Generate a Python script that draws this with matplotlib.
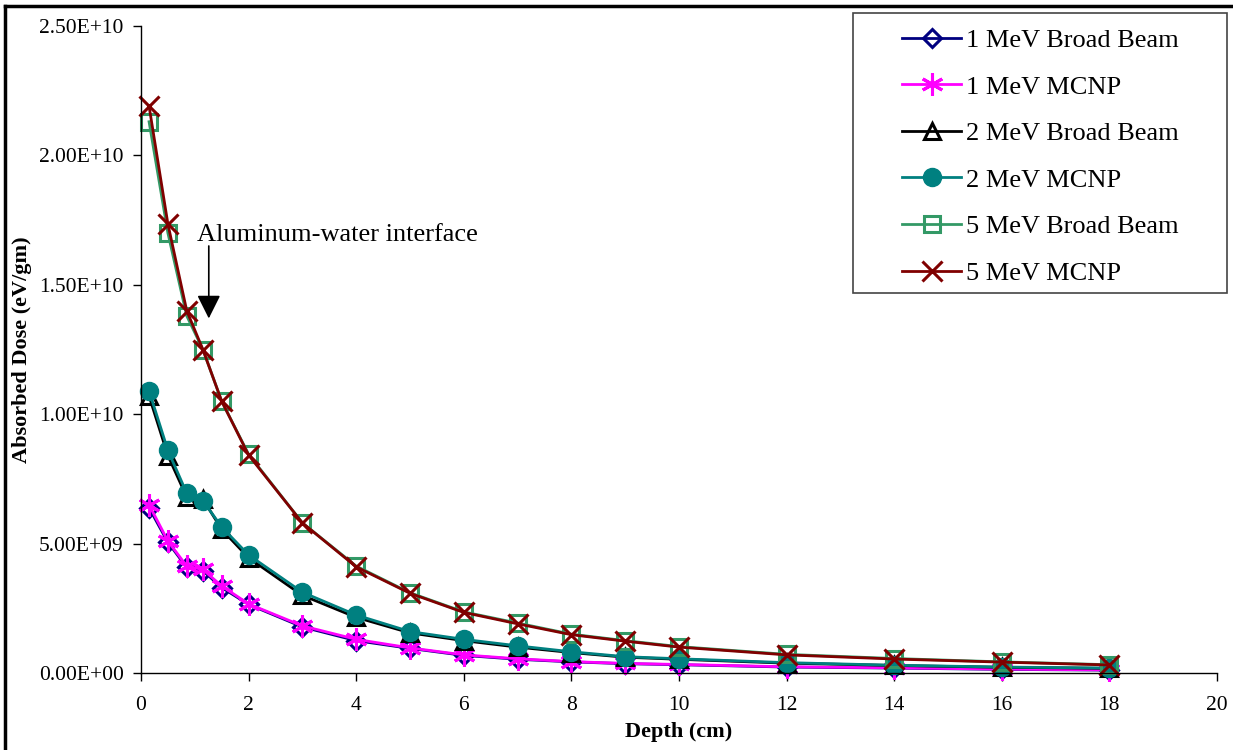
import matplotlib
matplotlib.use("Agg")
import matplotlib.pyplot as plt
from matplotlib.lines import Line2D
from matplotlib.patches import Rectangle

plt.rcParams['font.family'] = ['Liberation Serif', 'DejaVu Serif']

depth = [0.15, 0.5, 0.85, 1.15, 1.5, 2, 3, 4, 5, 6, 7, 8, 9, 10, 12, 14, 16, 18]

mev1_broad = [6.38e9, 5.05e9, 4.08e9, 3.95e9, 3.30e9, 2.65e9, 1.78e9, 1.25e9, 0.95e9,
              0.68e9, 0.53e9, 0.43e9, 0.36e9, 0.32e9, 0.23e9, 0.19e9, 0.14e9, 0.11e9]
mev1_mcnp = [6.50e9, 5.10e9, 4.13e9, 4.00e9, 3.36e9, 2.67e9, 1.82e9, 1.30e9, 0.97e9,
             0.70e9, 0.55e9, 0.44e9, 0.37e9, 0.33e9, 0.24e9, 0.20e9, 0.15e9, 0.12e9]
mev2_broad = [1.07e10, 8.40e9, 6.80e9, 6.72e9, 5.55e9, 4.45e9, 3.00e9, 2.15e9, 1.55e9,
              1.25e9, 1.00e9, 0.79e9, 0.61e9, 0.53e9, 0.38e9, 0.29e9, 0.22e9, 0.18e9]
mev2_mcnp = [1.09e10, 8.60e9, 6.95e9, 6.66e9, 5.64e9, 4.56e9, 3.12e9, 2.24e9, 1.60e9,
             1.30e9, 1.05e9, 0.82e9, 0.63e9, 0.55e9, 0.40e9, 0.30e9, 0.23e9, 0.19e9]
mev5_broad = [2.13e10, 1.70e10, 1.38e10, 1.25e10, 1.05e10, 8.45e9, 5.80e9, 4.13e9, 3.10e9,
              2.36e9, 1.93e9, 1.50e9, 1.25e9, 1.02e9, 0.72e9, 0.56e9, 0.43e9, 0.32e9]
mev5_mcnp = [2.19e10, 1.735e10, 1.40e10, 1.25e10, 1.05e10, 8.42e9, 5.80e9, 4.10e9, 3.08e9,
             2.34e9, 1.90e9, 1.48e9, 1.23e9, 1.00e9, 0.70e9, 0.54e9, 0.42e9, 0.31e9]

labels = ["1 MeV Broad Beam", "1 MeV MCNP", "2 MeV Broad Beam",
          "2 MeV MCNP", "5 MeV Broad Beam", "5 MeV MCNP"]

x_ticks = [0, 2, 4, 6, 8, 10, 12, 14, 16, 18, 20]
y_ticks = [0, 5e9, 1e10, 1.5e10, 2e10, 2.5e10]
y_tick_labels = ["0.00E+00", "5.00E+09", "1.00E+10", "1.50E+10", "2.00E+10", "2.50E+10"]

fig = plt.figure(figsize=(12.33, 7.5), dpi=100)
ax = fig.add_axes([141/1233, 77/750, (1217-141)/1233, (673-26)/750])

styles = [
    dict(color='#000080', marker='D', mfc='none', mec='#000080', ms=9, mew=2.2),
    dict(color='#FF00FF', marker=(6, 2, 0), mec='#FF00FF', ms=16, mew=2.2),
    dict(color='#000000', marker='^', mfc='none', mec='#000000', ms=12, mew=2.2),
    dict(color='#008080', marker='o', mfc='#008080', mec='#008080', ms=13),
    dict(color='#339966', marker='s', mfc='none', mec='#339966', ms=11.5, mew=2.2),
    dict(color='#800000', marker='x', mec='#800000', ms=15, mew=2.2),
]
series = [mev1_broad, mev1_mcnp, mev2_broad, mev2_mcnp, mev5_broad, mev5_mcnp]

handles = []
for ys, st, lab in zip(series, styles, labels):
    h, = ax.plot(depth, ys, lw=2.0, label=lab, clip_on=False, **st)
    handles.append(h)

ax.set_xlim(0, 20)
ax.set_ylim(0, 2.5e10)
ax.set_xticks(x_ticks)
ax.set_xticklabels([str(t) for t in x_ticks])
ax.set_yticks(y_ticks)
ax.set_yticklabels(y_tick_labels)
ax.spines['top'].set_visible(False)
ax.spines['right'].set_visible(False)
for s in ('left', 'bottom'):
    ax.spines[s].set_linewidth(1.0)
ax.tick_params(axis='both', direction='out', length=5.5, width=1.0, labelsize=15.5)
ax.tick_params(axis='x', pad=11)
ax.tick_params(axis='y', pad=7)
ax.set_xlabel("Depth (cm)", fontsize=16, fontweight='bold', labelpad=5)
ax.set_ylabel("Absorbed Dose (eV/gm)", fontsize=16, fontweight='bold', labelpad=5)

ax.annotate('', xy=(1.26, 13.7e9), xytext=(1.26, 16.5e9),
            arrowprops=dict(arrowstyle='-|>,head_length=1.0,head_width=0.5',
                            mutation_scale=14.4, color='black', lw=1.2,
                            shrinkA=0, shrinkB=0))
ax.text(1.04, 16.92e9, "Aluminum-water interface", fontsize=19, va='center', ha='left')

# legend frame
fig.patches.append(Rectangle((853/1233, (750-293)/750), (1227-853)/1233, (293-13)/750,
                             transform=fig.transFigure, fill=True, facecolor='white',
                             edgecolor='#444444', lw=1.2, zorder=5))
leg = fig.legend(handles=handles, labels=labels, loc='upper left',
                 bbox_to_anchor=(884/1233, (750-10)/750), frameon=False,
                 fontsize=19, handlelength=2.2, handletextpad=0.2,
                 labelspacing=0.875, borderpad=0.2)
leg.set_zorder(6)

# outer border (left and top edges visible)
fig.add_artist(Line2D([5/1233, 5/1233], [0, 1 - 6/750], transform=fig.transFigure,
                      color='black', lw=2.5))
fig.add_artist(Line2D([5/1233, 1], [1 - 6/750, 1 - 6/750], transform=fig.transFigure,
                      color='black', lw=2.5))

fig.savefig("out.png", dpi=100)
